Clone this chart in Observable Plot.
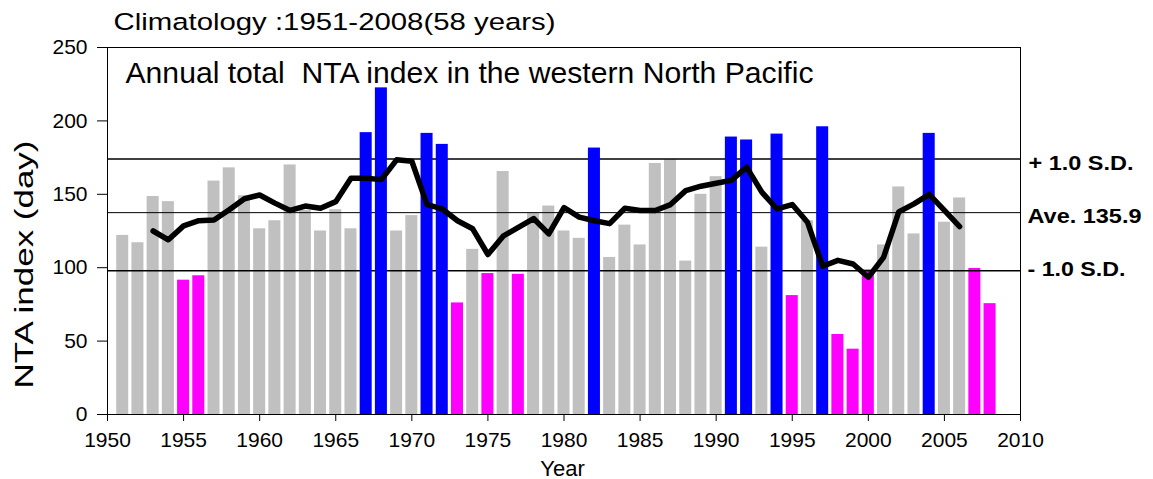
<!DOCTYPE html>
<html>
<head>
<meta charset="utf-8">
<script src="https://cdn.jsdelivr.net/npm/d3@7"></script>
<script src="https://cdn.jsdelivr.net/npm/@observablehq/plot@0.6"></script>
<style>
  html, body { margin: 0; padding: 0; background: #fff; }
</style>
</head>
<body>
<div id="chart"></div>
<script>
// ---- data ----
const years = [1951,1952,1953,1954,1955,1956,1957,1958,1959,1960,
               1961,1962,1963,1964,1965,1966,1967,1968,1969,1970,
               1971,1972,1973,1974,1975,1976,1977,1978,1979,1980,
               1981,1982,1983,1984,1985,1986,1987,1988,1989,1990,
               1991,1992,1993,1994,1995,1996,1997,1998,1999,2000,
               2001,2002,2003,2004,2005,2006,2007,2008];
const values = [122,117,148.5,145,91.5,94.5,159,168,149,126.5,
                132,170,139,125,139.5,126.5,192,222.5,125,135.5,
                191.5,184,76,112.5,96,165.5,95.5,137,142,125,
                120,181.5,107,129,115.5,171,173.5,104.5,150,162,
                189,187,114,191,81,132,196,54.5,44.5,98.5,
                115.5,155,123,191.5,131,147.5,99.5,75.5];
// n = normal (grey), h = above +1 S.D. (blue), l = below -1 S.D. (magenta)
const classes = ["n","n","n","n","l","l","n","n","n","n",
                 "n","n","n","n","n","n","h","h","n","n",
                 "h","h","l","n","l","n","l","n","n","n",
                 "n","h","n","n","n","n","n","n","n","n",
                 "h","h","n","h","l","n","h","l","l","l",
                 "n","n","n","h","n","n","l","l"];
const classNames = ["n","h","l"];
const classColors = ["#c0c0c0","#0000ff","#ff00ff"];

// 5-year running mean
const meanYears = [1953,1954,1955,1956,1957,1958,1959,1960,1961,1962,
                   1963,1964,1965,1966,1967,1968,1969,1970,1971,1972,
                   1973,1974,1975,1976,1977,1978,1979,1980,1981,1982,
                   1983,1984,1985,1986,1987,1988,1989,1990,1991,1992,
                   1993,1994,1995,1996,1997,1998,1999,2000,2001,2002,
                   2003,2004,2005,2006];
const meanValues = [125,119,128.5,132,132.5,139.5,147,149.5,144,139,
                    142,140.5,145,161,161,160,173.5,172.5,143,140,
                    132,126.5,109,121.5,127.5,133.5,123,141,134.5,132,
                    130,140.5,139,139,143,152.5,155.5,157.5,159.5,168.5,
                    151.5,140,143,131,101,105,102.5,93.5,107,138,
                    143.5,150,139,128];

const refValues = [174, 137.5, 98];
const refLabels = ["+ 1.0 S.D.", "Ave. 135.9", "- 1.0 S.D."];

const xTicks = [1950,1955,1960,1965,1970,1975,1980,1985,1990,1995,2000,2005,2010];
const yTicks = [0,50,100,150,200,250];

const titleText = "Climatology :1951-2008(58 years)";
const innerTitle = "Annual total  NTA index in the western North Pacific";
const yLabel = "NTA index (day)";
const xLabel = "Year";

// ---- build tables ----
const bars = years.map((year, i) => ({year, value: values[i], cls: classes[i]}));
const means = meanYears.map((year, i) => ({year, value: meanValues[i]}));
const refs = refValues.map((value, i) => ({value, label: refLabels[i]}));
const half = 0.395;
const barOpts = {x1: d => d.year - half, x2: d => d.year + half, y: "value", fill: "cls"};

const plot = Plot.plot({
  width: 1153,
  height: 479,
  marginLeft: 107,
  marginRight: 133,
  marginTop: 47,
  marginBottom: 65,
  style: {fontFamily: "'Liberation Sans', Arial, sans-serif", fontSize: "21px", background: "#fff", color: "#000", overflow: "visible"},
  x: {domain: [1950, 2010]},
  y: {domain: [0, 250]},
  color: {domain: classNames, range: classColors},
  marks: [
    Plot.rectY(bars.filter(d => d.cls !== "h"), barOpts),
    Plot.ruleY([refs[0], refs[2]], {y: "value", stroke: "#000", strokeWidth: 1.5}),
    Plot.ruleY([refs[1]], {y: "value", stroke: "#000", strokeWidth: 1}),
    Plot.rectY(bars.filter(d => d.cls === "h"), barOpts),
    Plot.line(means, {x: "year", y: "value", stroke: "#000", strokeWidth: 5.5, strokeLinejoin: "round"}),
    Plot.frame({stroke: "#000"}),
    Plot.axisX({ticks: xTicks, tickFormat: "d", tickSize: 7, tickPadding: 11, fontSize: 21, label: null}),
    Plot.axisY({ticks: yTicks, tickFormat: "d", tickSize: 10, tickPadding: 10, fontSize: 21, label: null}),
    Plot.text([titleText], {text: d => d, frameAnchor: "top-left", dx: 6, dy: -35, textAnchor: "start", lineAnchor: "top", fontSize: 24.5}),
    Plot.text([innerTitle], {text: d => d, frameAnchor: "top-left", dx: 18, dy: 14.5, textAnchor: "start", lineAnchor: "top", fontSize: 29.5}),
    Plot.text([yLabel], {text: d => d, frameAnchor: "left", rotate: -90, dx: -83, dy: 33.5, textAnchor: "middle", lineAnchor: "middle", fontSize: 25}),
    Plot.text([xLabel], {text: d => d, frameAnchor: "bottom", dx: -1.5, dy: 46, textAnchor: "middle", lineAnchor: "top", fontSize: 22}),
    Plot.text([refs[0]], {y: "value", text: "label", frameAnchor: "right", dx: 8, dy: 4.6, textAnchor: "start", fontWeight: "bold", fontSize: 20}),
    Plot.text([refs[1]], {y: "value", text: "label", frameAnchor: "right", dx: 7, dy: 4.2, textAnchor: "start", fontWeight: "bold", fontSize: 20}),
    Plot.text([refs[2]], {y: "value", text: "label", frameAnchor: "right", dx: 7, dy: -1.3, textAnchor: "start", fontWeight: "bold", fontSize: 20})
  ]
});

document.getElementById("chart").appendChild(plot);

// stretch some labels horizontally as in the reference
const lengths = new Map([
  [titleText, 442],
  [innerTitle, 688],
  [yLabel, 248],
  [refLabels[0], 105],
  [refLabels[1], 114],
  [refLabels[2], 98]
]);
d3.select(plot).selectAll("text").each(function() {
  const t = this.textContent;
  if (lengths.has(t)) {
    d3.select(this).attr("textLength", lengths.get(t)).attr("lengthAdjust", "spacingAndGlyphs");
  }
});
</script>
</body>
</html>
